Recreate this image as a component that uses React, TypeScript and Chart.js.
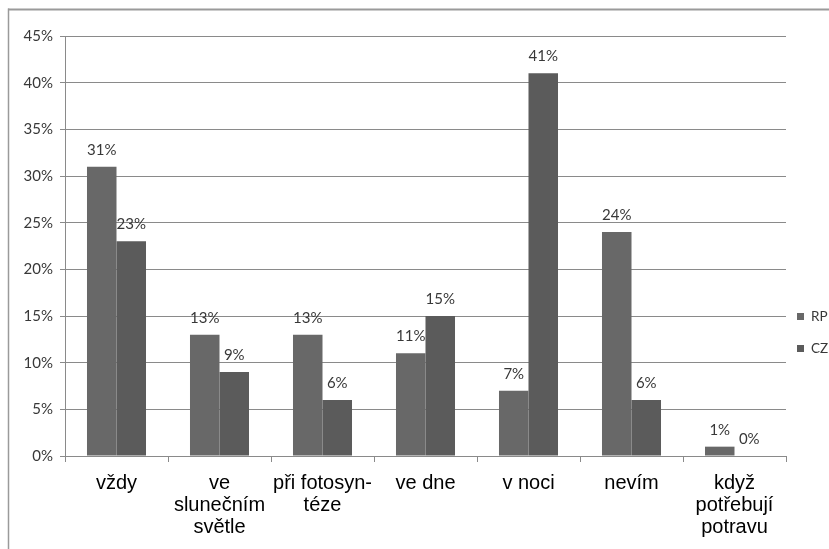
import { useEffect, useRef } from "react";
import { Chart, registerables } from "chart.js";

Chart.register(...registerables);

// Answer categories (multi-line labels)
const categories: string[][] = [
  ["vždy"],
  ["ve", "slunečním", "světle"],
  ["při fotosyn-", "téze"],
  ["ve dne"],
  ["v noci"],
  ["nevím"],
  ["když", "potřebují", "potravu"],
];

const seriesNames = ["RP", "CZ"];

// Share of answers in percent
const rpValues = [31, 13, 13, 11, 7, 24, 1];
const czValues = [23, 9, 6, 15, 41, 6, 0];

const seriesColors = ["#686868", "#5b5b5b"];

const yMax = 45;
const yStep = 5;

const GRID = "#8a8a8a";
const SMALL_FONT = "Lato";

// Thin frame around the figure (top and left edges visible)
const framePlugin = {
  id: "frame",
  beforeDraw(chart: any) {
    const { ctx, width, height } = chart;
    ctx.save();
    ctx.fillStyle = "#ffffff";
    ctx.fillRect(0, 0, width, height);
    ctx.fillStyle = "#9a9a9a";
    ctx.fillRect(8, 8.5, width - 8, 2);
    ctx.fillRect(7.75, 8.5, 1.5, height - 8.5);
    ctx.restore();
  },
};

// Percent labels above each bar
const valueLabelsPlugin = {
  id: "valueLabels",
  afterDatasetsDraw(chart: any) {
    const ctx = chart.ctx;
    ctx.save();
    ctx.font = `15px ${SMALL_FONT}`;
    ctx.fillStyle = "#383838";
    ctx.textAlign = "center";
    ctx.textBaseline = "alphabetic";
    chart.data.datasets.forEach((ds: any, i: number) => {
      chart.getDatasetMeta(i).data.forEach((bar: any, j: number) => {
        ctx.fillText(`${ds.data[j]}%`, bar.x, bar.y - 12);
      });
    });
    ctx.restore();
  },
};

// Legend on the right side: square markers with series names
const sideLegendPlugin = {
  id: "sideLegend",
  afterDraw(chart: any) {
    const ctx = chart.ctx;
    const x = chart.chartArea.right + 11;
    const y0 = 317;
    const gap = 32;
    ctx.save();
    ctx.font = `13.5px ${SMALL_FONT}`;
    ctx.textAlign = "left";
    ctx.textBaseline = "middle";
    chart.data.datasets.forEach((ds: any, i: number) => {
      const cy = y0 + i * gap;
      ctx.fillStyle = ds.backgroundColor;
      ctx.fillRect(x, cy - 4, 7, 7);
      ctx.fillStyle = "#383838";
      ctx.fillText(ds.label, x + 14, cy);
    });
    ctx.restore();
  },
};

export default function App() {
  const canvasRef = useRef<HTMLCanvasElement>(null);

  useEffect(() => {
    if (!canvasRef.current) return;
    const chart = new Chart(canvasRef.current, {
      type: "bar",
      data: {
        labels: categories,
        datasets: [
          { label: seriesNames[0], data: rpValues, backgroundColor: seriesColors[0] },
          { label: seriesNames[1], data: czValues, backgroundColor: seriesColors[1] },
        ],
      },
      options: {
        responsive: false,
        animation: false,
        layout: { padding: { top: 36, right: 43, left: 0, bottom: 0 } },
        datasets: { bar: { categoryPercentage: 0.573, barPercentage: 1 } },
        plugins: {
          legend: { display: false },
          tooltip: { enabled: false },
        },
        scales: {
          x: {
            grid: {
              display: true,
              drawOnChartArea: false,
              drawTicks: true,
              tickLength: 6,
              color: GRID,
              offset: true,
            },
            border: { color: GRID },
            ticks: {
              color: "#000000",
              font: { family: "Liberation Sans", size: 20, lineHeight: 22 / 20 },
              padding: 10,
              maxRotation: 0,
              autoSkip: false,
            },
            afterFit: (scale: any) => {
              scale.height = 93;
            },
          },
          y: {
            min: 0,
            max: yMax,
            ticks: {
              stepSize: yStep,
              callback: (v: any) => `${v}%`,
              color: "#383838",
              font: { family: SMALL_FONT, size: 15 },
              padding: 7,
            },
            grid: { color: GRID, tickLength: 5 },
            border: { color: GRID },
            afterFit: (scale: any) => {
              scale.width = 65;
            },
          },
        },
      } as any,
      plugins: [framePlugin, valueLabelsPlugin, sideLegendPlugin],
    });
    return () => chart.destroy();
  }, []);

  return (
    <div style={{ position: "fixed", left: 0, top: 0, width: 829, height: 549 }}>
      <canvas ref={canvasRef} width={829} height={549} style={{ display: "block" }} />
    </div>
  );
}
